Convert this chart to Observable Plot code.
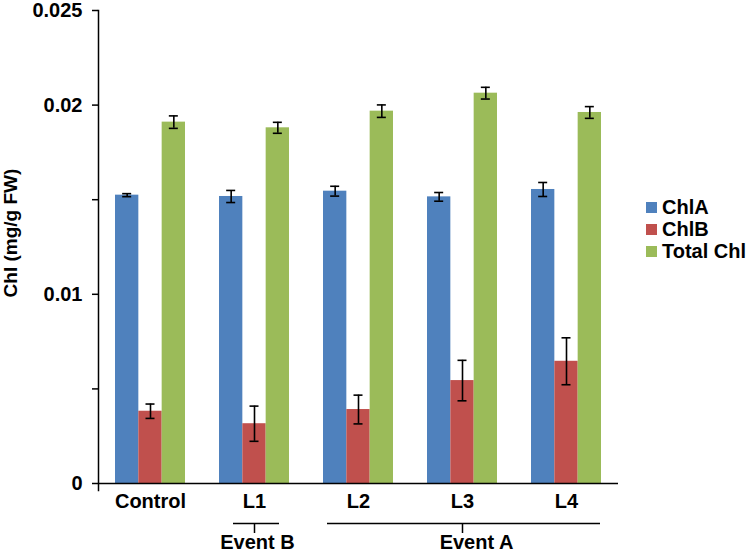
<!DOCTYPE html>
<html>
<head>
<meta charset="utf-8">
<script src="https://cdn.jsdelivr.net/npm/d3@7"></script>
<script src="https://cdn.jsdelivr.net/npm/@observablehq/plot@0.6"></script>
<style>
  body { margin: 0; background: #fff; }
  #wrap { position: relative; width: 750px; height: 553px; font-family: "Liberation Sans", Arial, sans-serif; }
  #legend { position: absolute; left: 646px; top: 196px; font-weight: bold; font-size: 20px; color: #000; }
  .row { display: flex; align-items: center; height: 22px; white-space: nowrap; }
  .sw { width: 11px; height: 11px; margin-right: 5px; }
</style>
</head>
<body>
<div id="wrap"><div id="legend"></div></div>
<script>
// ---- data ----
const groups = ["Control", "L1", "L2", "L3", "L4"];
const seriesNames = ["ChlA", "ChlB", "Total Chl"];
const seriesColors = ["#4F81BD", "#C0504D", "#9BBB59"];
const chlA = [0.01524, 0.01517, 0.01545, 0.01515, 0.01554];
const chlAErr = [0.00008, 0.00032, 0.00026, 0.00023, 0.00037];
const chlB = [0.00382, 0.00316, 0.00391, 0.00544, 0.00646];
const chlBErr = [0.00038, 0.00093, 0.00076, 0.00107, 0.00124];
const totalChl = [0.0191, 0.0188, 0.01968, 0.02063, 0.01961];
const totalChlErr = [0.00033, 0.00029, 0.00033, 0.00031, 0.00031];
const yTickValues = [0, 0.005, 0.01, 0.015, 0.02, 0.025];
const yTickLabels = ["0", "", "0.01", "", "0.02", "0.025"];
const yLabel = "Chl (mg/g FW)";
const eventLabels = ["Event B", "Event A"];
const eventFrom = ["L1", "L2"];
const eventTo = ["L1", "L4"];
const eventMid = ["L1", "L3"];

// ---- layout ----
const W = 750, H = 553, ML = 98, MR = 132, MT = 10, MB = 70;
const PAD = 0.327;
const step = (W - ML - MR) / groups.length;
const barW = step * (1 - PAD) / 3;
const capW = 9;
const FONT = "'Liberation Sans', Arial, sans-serif";
const FS = 20;
const eventLayout = [
  {insetLeft: 14, insetRight: 10, textDx: 3},
  {insetLeft: 4, insetRight: 1, textDx: 14}
];

const values = [chlA, chlB, totalChl];
const errs = [chlAErr, chlBErr, totalChlErr];
const marks = [];
const seriesData = seriesNames.map((s, i) =>
  groups.map((g, j) => ({group: g, series: s, value: values[i][j], err: errs[i][j]})));

seriesData.forEach((data, i) => {
  marks.push(Plot.barY(data, {
    x: "group", y: "value", fill: seriesColors[i],
    insetLeft: i * barW, insetRight: (2 - i) * barW
  }));
});
seriesData.forEach((data, i) => {
  const capIL = i * barW + (barW - capW) / 2, capIR = (2 - i) * barW + (barW - capW) / 2;
  marks.push(Plot.ruleX(data, {
    x: "group", y1: d => d.value - d.err, y2: d => d.value + d.err,
    dx: (i - 1) * barW, stroke: "black", strokeWidth: 1.6
  }));
  marks.push(Plot.tickY(data, {x: "group", y: d => d.value + d.err, insetLeft: capIL, insetRight: capIR, stroke: "black", strokeWidth: 1.6}));
  marks.push(Plot.tickY(data, {x: "group", y: d => d.value - d.err, insetLeft: capIL, insetRight: capIR, stroke: "black", strokeWidth: 1.6}));
});

// axes
marks.push(Plot.ruleY([0], {stroke: "black", strokeWidth: 1.5}));
marks.push(Plot.frame({anchor: "left", stroke: "black", strokeWidth: 1.5, insetBottom: -7}));
marks.push(Plot.axisY({
  ticks: yTickValues,
  tickFormat: d => yTickLabels[yTickValues.indexOf(d)],
  tickSize: 6, tickPadding: 10, strokeWidth: 1.5,
  fontSize: FS, fontWeight: "bold", label: null
}));
marks.push(Plot.axisX({tickSize: 0, tickPadding: 10, fontSize: FS, fontWeight: "bold", label: null}));
marks.push(Plot.text([yLabel], {
  text: d => d, frameAnchor: "left", textAnchor: "middle", rotate: -90, dx: -88, dy: -14,
  fontSize: 19, fontWeight: "bold", fill: "black"
}));

// event brackets
const eventData = eventLabels.map((label, k) => ({label, from: eventFrom[k], to: eventTo[k], mid: eventMid[k]}));
eventData.forEach((ev, k) => {
  const L = eventLayout[k];
  marks.push(Plot.ruleY([0], {x1: () => ev.from, x2: () => ev.to, dy: 40, insetLeft: L.insetLeft, insetRight: L.insetRight, stroke: "black", strokeWidth: 1.5}));
  marks.push(Plot.ruleX([ev], {x: "mid", y1: () => 0, y2: () => 0, dy: 40, insetBottom: -10, stroke: "black", strokeWidth: 1.5}));
  marks.push(Plot.text([ev], {x: "mid", y: () => 0, text: "label", dy: 51, dx: L.textDx, lineAnchor: "top", fontSize: FS, fontWeight: "bold", fill: "black"}));
});

const chart = Plot.plot({
  width: W, height: H,
  marginLeft: ML, marginRight: MR, marginTop: MT, marginBottom: MB,
  style: {fontFamily: FONT, color: "black", background: "white", overflow: "visible"},
  x: {type: "band", domain: groups, paddingInner: PAD, paddingOuter: PAD / 2},
  y: {domain: [0, 0.025]},
  marks
});
const wrap = document.getElementById("wrap");
wrap.insertBefore(chart, wrap.firstChild);

// legend
const legend = document.getElementById("legend");
seriesNames.forEach((s, i) => {
  const row = document.createElement("div");
  row.className = "row";
  const sw = document.createElement("div");
  sw.className = "sw";
  sw.style.background = seriesColors[i];
  const t = document.createElement("span");
  t.textContent = s;
  row.appendChild(sw); row.appendChild(t);
  legend.appendChild(row);
});
</script>
</body>
</html>
